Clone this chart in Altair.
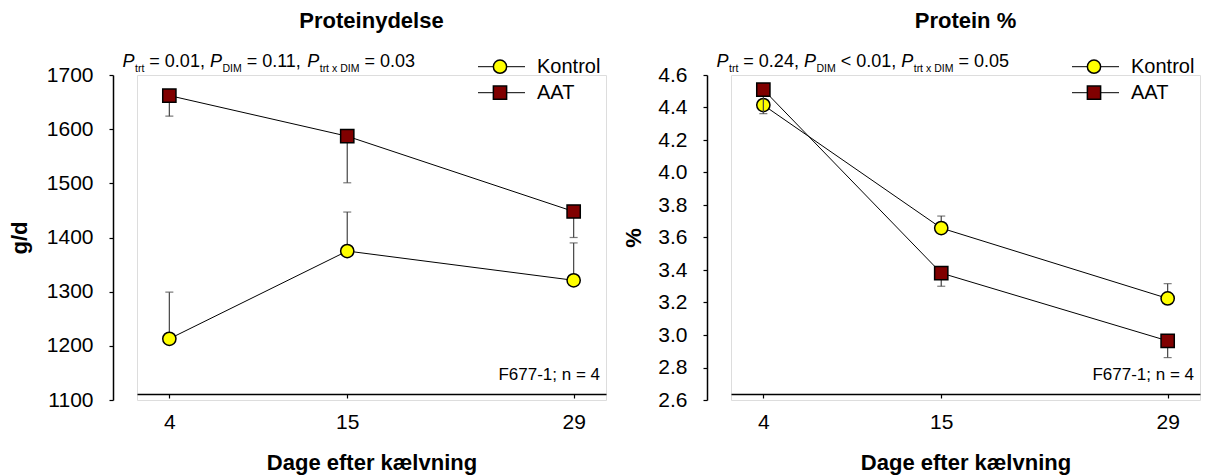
import altair as alt
import pandas as pd

# ---------------- data ----------------
days = [4, 15, 29]
series = ["Kontrol", "AAT"]
fills = ["#FFFF00", "#800000"]
shapes = ["circle", "square"]
err_dir = [1, -1]  # Kontrol bars drawn upward, AAT downward

# Proteinydelse, g/d
yield_kontrol = [1213, 1375, 1321]
yield_kontrol_se = [86, 72, 69]
yield_aat = [1662, 1587, 1448]
yield_aat_se = [38, 86, 48]

# Protein %
pct_kontrol = [4.415, 3.658, 3.225]
pct_kontrol_se = [0.03, 0.074, 0.091]
pct_aat = [4.51, 3.381, 2.964]
pct_aat_se = [0.148, 0.081, 0.103]

yield_ticks = [1100, 1200, 1300, 1400, 1500, 1600, 1700]
pct_ticks = [2.6, 2.8, 3.0, 3.2, 3.4, 3.6, 3.8, 4.0, 4.2, 4.4, 4.6]

p_yield = [("P", "it"), ("trt", "sub"), ("= 0.01,", "main"), ("P", "it"), ("DIM", "sub"),
           ("= 0.11,", "main"), ("P", "it"), ("trt x DIM", "sub"), ("= 0.03", "main")]
p_pct = [("P", "it"), ("trt", "sub"), ("= 0.24,", "main"), ("P", "it"), ("DIM", "sub"),
         ("< 0.01,", "main"), ("P", "it"), ("trt x DIM", "sub"), ("= 0.05", "main")]
note = "F677-1; n = 4"
x_title = "Dage efter kælvning"

# ---------------- styling ----------------
FONT = "Liberation Sans"
W, H = 469, 325
MAIN, SUB = 18, 10.5
TICK_FS, TITLE_FS, LEG_FS = 21, 22, 20
CW = {' ': 278, '=': 584, '<': 584, '.': 278, ',': 278, 'P': 667, 't': 278, 'r': 333,
      'x': 500, 'D': 722, 'I': 278, 'M': 833, '-': 333, ';': 278}
for d in "0123456789":
    CW[d] = 556


def text_w(s, size):
    return sum(CW.get(c, 556) for c in s) * size / 1000.0


def ptext_df(segs, x0=-14.5, y_main=-8, y_sub=-3):
    rows = []
    x = x0
    for txt, kind in segs:
        size = SUB if kind == "sub" else MAIN
        rows.append({"t": txt, "kind": kind, "px": x, "py": y_sub if kind == "sub" else y_main})
        x += text_w(txt, size)
        x += 0.5 if kind == "it" else text_w(" ", MAIN)
    return pd.DataFrame(rows)


fill_scale = alt.Scale(domain=series, range=fills)
shape_scale = alt.Scale(domain=series, range=shapes)


def panel(vk, sk, va, sa, ydomain, yticks, yfmt, ytitle, ytitle_x, title, psegs):
    rows = []
    for s, vals, ses, dr in [(series[0], vk, sk, err_dir[0]), (series[1], va, sa, err_dir[1])]:
        for d, v, e in zip(days, vals, ses):
            rows.append({"series": s, "day": d, "value": v, "end": v + dr * e})
    df = pd.DataFrame(rows)

    xaxis = alt.Axis(values=days, title=x_title, offset=-6, grid=False,
                     domainColor="black", domainWidth=1.5, tickColor="black", tickSize=4,
                     tickWidth=1.2, labelFontSize=TICK_FS, labelFont=FONT, labelColor="black",
                     labelPadding=13, labelFlush=False, titleFontSize=TITLE_FS, titleFont=FONT,
                     titleFontWeight="bold", titleColor="black", titleY=75,
                     titleBaseline="alphabetic")
    yaxis = alt.Axis(values=yticks, format=yfmt, title=ytitle, offset=24, grid=False,
                     domainColor="black", domainWidth=1.5, tickColor="black", tickSize=4,
                     tickWidth=1.2, labelFontSize=TICK_FS, labelFont=FONT, labelColor="black",
                     labelPadding=16, titleFontSize=TITLE_FS, titleFont=FONT, titleFontWeight="bold",
                     titleColor="black", titleX=ytitle_x, titleY=H / 2, titleAngle=270,
                     titleBaseline="middle", titleAlign="center")
    xs = alt.Scale(domain=[2, 31], nice=False, zero=False)
    ys = alt.Scale(domain=ydomain, nice=False, zero=False)
    X = alt.X("day:Q", scale=xs, axis=xaxis)
    Y = alt.Y("value:Q", scale=ys, axis=yaxis)
    Yend = alt.Y("end:Q", scale=ys, axis=yaxis)

    layers = []
    base = alt.Chart(df)
    for s in series:
        b = base.transform_filter(alt.datum.series == s)
        layers.append(b.mark_rule(color="#444444", strokeWidth=1.2).encode(x=X, y=Y, y2="end:Q"))
        layers.append(b.mark_tick(orient="horizontal", size=8, thickness=1.2, color="#444444")
                      .encode(x=X, y=Yend))
        layers.append(b.mark_line(color="black", strokeWidth=1).encode(x=X, y=Y))
        layers.append(b.mark_point(filled=True, size=175, stroke="black", strokeWidth=1.5, opacity=1)
                      .encode(x=X, y=Y,
                              fill=alt.Fill("series:N", scale=fill_scale, legend=None),
                              shape=alt.Shape("series:N", scale=shape_scale, legend=None)))

    # legend drawn by hand (line through marker)
    leg = pd.DataFrame({"series": series, "ly": [-8.3, 17.7]})
    lb = alt.Chart(leg)
    layers.append(lb.mark_rule(color="black", strokeWidth=1).encode(
        x=alt.value(341), x2=alt.value(388), y=alt.Y("ly:Q", scale=None)))
    layers.append(lb.mark_point(filled=True, size=175, stroke="black", strokeWidth=1.5, opacity=1).encode(
        x=alt.value(363), y=alt.Y("ly:Q", scale=None),
        fill=alt.Fill("series:N", scale=fill_scale, legend=None),
        shape=alt.Shape("series:N", scale=shape_scale, legend=None)))
    layers.append(lb.mark_text(align="left", baseline="middle", fontSize=LEG_FS, font=FONT, color="black").encode(
        x=alt.value(400), y=alt.Y("ly:Q", scale=None), text="series:N"))

    # P-value annotation with subscripts
    pdf = ptext_df(psegs)
    pb = alt.Chart(pdf)
    for kind, size, style in [("it", MAIN, "italic"), ("main", MAIN, "normal"), ("sub", SUB, "normal")]:
        layers.append(pb.transform_filter(alt.datum.kind == kind).mark_text(
            align="left", baseline="alphabetic", fontSize=size, fontStyle=style, font=FONT,
            color="black").encode(x=alt.X("px:Q", scale=None), y=alt.Y("py:Q", scale=None), text="t:N"))

    # panel title and note
    tdf = pd.DataFrame({"t": [title]})
    layers.append(alt.Chart(tdf).mark_text(align="center", baseline="alphabetic", fontSize=TITLE_FS,
                                           fontWeight="bold", font=FONT, color="black").encode(
        x=alt.value(W / 2), y=alt.value(-47), text="t:N"))
    ndf = pd.DataFrame({"t": [note]})
    layers.append(alt.Chart(ndf).mark_text(align="right", baseline="alphabetic", fontSize=17,
                                           font=FONT, color="black").encode(
        x=alt.value(463), y=alt.value(305), text="t:N"))

    return alt.layer(*layers).properties(width=W, height=H)


left = panel(yield_kontrol, yield_kontrol_se, yield_aat, yield_aat_se, [1100, 1700], yield_ticks,
             "d", "g/d", -94, "Proteinydelse", p_yield)
right = panel(pct_kontrol, pct_kontrol_se, pct_aat, pct_aat_se, [2.6, 4.6], pct_ticks,
              ".1f", "%", -73.5, "Protein %", p_pct)

chart = alt.hconcat(left, right, spacing=125, bounds="flush").properties(
    autosize=alt.AutoSizeParams(type="none"),
    padding={"left": 137, "top": 75, "right": 1070, "bottom": 401},
).configure_view(stroke=None).configure(font=FONT)

chart.save("out.html", embed_options={"renderer": "svg", "actions": False})
